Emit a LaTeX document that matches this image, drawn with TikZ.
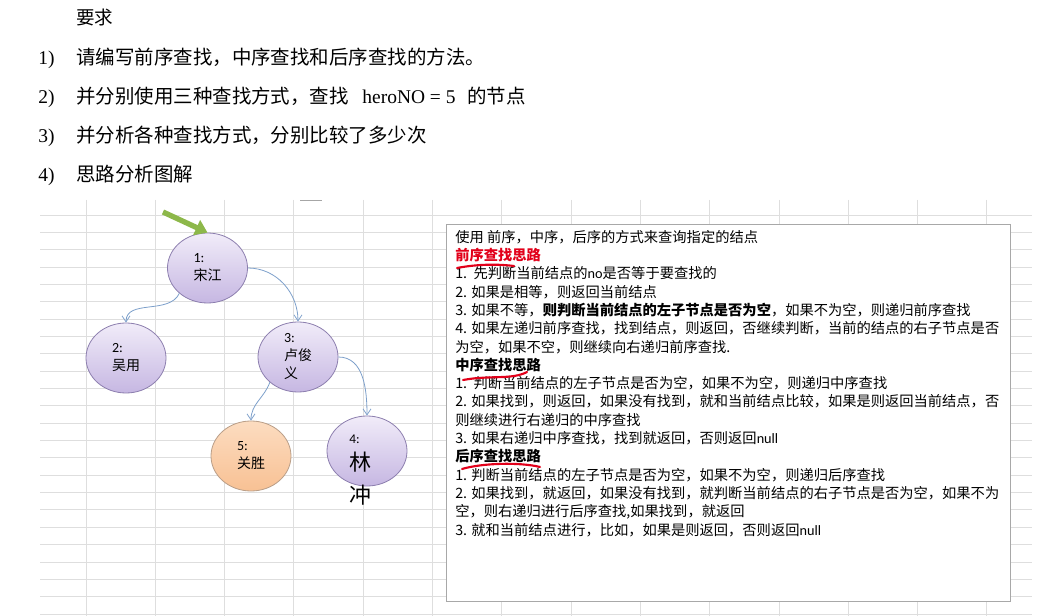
\documentclass[tikz,border=0pt]{standalone}
\usepackage{fontspec}
\setmainfont{Liberation Serif}
\newfontfamily\cjk{Noto Sans CJK SC}
\newfontfamily\cali{Carlito}
\usetikzlibrary{shapes.geometric,arrows.meta}
\definecolor{gridgray}{HTML}{DEDEDE}
\definecolor{boxgray}{HTML}{A8A8A8}
\definecolor{herotop}{HTML}{F1ECF9}
\definecolor{herobot}{HTML}{C6B7E2}
\definecolor{heroline}{HTML}{8C7EAE}
\definecolor{foundtop}{HTML}{FCDCC0}
\definecolor{foundbot}{HTML}{F8C194}
\definecolor{foundline}{HTML}{B99E88}
\definecolor{linkblue}{HTML}{7C9FCA}
\definecolor{rootgreen}{HTML}{8DB84A}
\definecolor{markred}{HTML}{E2001A}
\tikzset{
  gridline/.style={draw=gridgray,line width=0.7pt},
  hero/.style={ellipse,draw=heroline,line width=0.6pt,top color=herotop,bottom color=herobot,
    minimum width=60pt,minimum height=52.5pt,inner xsep=0pt,inner ysep=-6pt,align=left,
    font=\cjk\fontsize{10.5}{13.5}\selectfont},
  found/.style={hero,draw=foundline,top color=foundtop,bottom color=foundbot},
  link/.style={draw=linkblue,line width=0.6pt,-{Straight Barb[length=4.5pt,width=6pt]}},
  rootarrow/.style={draw=rootgreen,line width=4pt,-{Triangle[length=9pt,width=12pt]}},
  redmark/.style={draw=markred,line width=1.6pt,line cap=round},
  req/.style={anchor=base west,inner sep=0pt,font=\cjk\fontsize{14.6}{16}\selectfont},
  reqnum/.style={anchor=base west,inner sep=0pt,font=\fontsize{14.6}{16}\selectfont}
}
\begin{document}
\begin{tikzpicture}[x=0.75pt,y=-0.75pt]
\useasboundingbox (0,0) rectangle (1053,616);
% task text
\node[anchor=base west,inner sep=0pt,font=\cjk\fontsize{13.9}{16}\selectfont] (title) at (76,24.5) {要求};
\node[reqnum] (num1) at (38,65) {1)};
\node[req] (req1) at (76,65) {请编写前序查找，中序查找和后序查找的方法。};
\node[reqnum] (num2) at (38,104) {2)};
\node[req] (req2) at (76,104) {并分别使用三种查找方式，查找\hspace{0.7em}{\rmfamily heroNO = 5}\hspace{0.6em}的节点};
\node[reqnum] (num3) at (38,143) {3)};
\node[req] (req3) at (76,143) {并分析各种查找方式，分别比较了多少次};
\node[reqnum] (num4) at (38,182) {4)};
\node[req] (req4) at (76,182) {思路分析图解};
% sheet grid
\foreach \k in {0,...,23} \draw[gridline] (40,215+\k*17.35) -- (1032,215+\k*17.35);
\foreach \k in {0,...,13} \draw[gridline] (86+\k*69.3,200) -- (86+\k*69.3,616);
\draw[draw=gray!70,line width=0.6pt] (300,200) -- (322,200);
% tree
\node[hero] (n1) at (207.5,268) {{\cali 1:}\\宋江};
\node[hero] (n2) at (126,358) {{\cali 2:}\\吴用};
\node[hero] (n3) at (298,357) {{\cali 3:}\\卢俊\\义};
\node[found] (n5) at (251,456) {{\cali 5:}\\关胜};
\node[hero] (n4) at (367,451) {};
\node[anchor=north west,inner sep=0pt,align=left,font=\cjk\fontsize{16.5}{24.75}\selectfont] (n4txt) at (349,435)
  {{\cali\fontsize{10}{10}\selectfont 4:}\\[-5pt]林\\冲};
\coordinate (entry) at (163,212);
\draw[rootarrow] (entry) -- (n1.north);
\draw[link] (n1.-138) to[out=-115,in=90] (n2.north);
\draw[link] (n1.east) to[out=0,in=90] (n3.north);
\draw[link] (n3.-138) to[out=-110,in=90] (n5.north);
\draw[link] (n3.east) to[out=0,in=90] (n4.north);
% search notes
\draw[draw=boxgray,fill=white,line width=0.7pt] (446,224) rectangle (1010,601);
\node[anchor=north west,inner sep=0pt,align=left,font=\cjk\fontsize{10.7}{13.72}\selectfont] (notes) at (455,230) {%
使用 前序，中序，后序的方式来查询指定的结点\\
{\color{markred}\bfseries 前序查找思路}\\
1.\ \ 先判断当前结点的{\cali no}是否等于要查找的\\
2. 如果是相等，则返回当前结点\\
3. 如果不等，{\bfseries 则判断当前结点的左子节点是否为空}，如果不为空，则递归前序查找\\
4. 如果左递归前序查找，找到结点，则返回，否继续判断，当前的结点的右子节点是否\\
为空，如果不空，则继续向右递归前序查找.\\
{\bfseries 中序查找思路}\\
1.\ \ 判断当前结点的左子节点是否为空，如果不为空，则递归中序查找\\
2. 如果找到，则返回，如果没有找到，就和当前结点比较，如果是则返回当前结点，否\\
则继续进行右递归的中序查找\\
3. 如果右递归中序查找，找到就返回，否则返回{\cali null}\\
{\bfseries 后序查找思路}\\
1. 判断当前结点的左子节点是否为空，如果不为空，则递归后序查找\\
2. 如果找到，就返回，如果没有找到，就判断当前结点的右子节点是否为空，如果不为\\
空，则右递归进行后序查找,如果找到，就返回\\
3. 就和当前结点进行，比如，如果是则返回，否则返回{\cali null}};
\draw[redmark] (457,268) .. controls (478,264) and (498,264) .. (514,266);
\draw[redmark] (463,380) .. controls (490,375) and (512,380) .. (527,372);
\draw[redmark] (462,469) .. controls (482,463) and (520,462) .. (540,467);
\end{tikzpicture}
\end{document}
